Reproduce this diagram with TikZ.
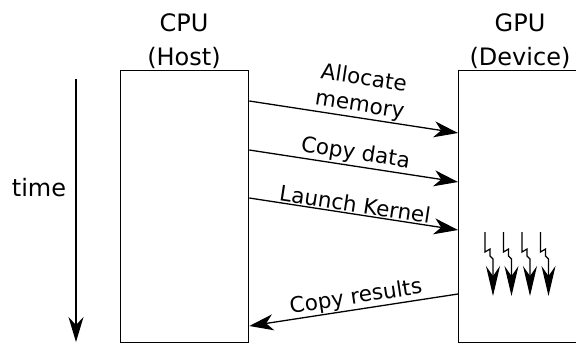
\documentclass[tikz,border=0pt]{standalone}
\usepackage{fontspec}
\setmainfont{DejaVu Sans}
\usetikzlibrary{arrows.meta,calc}
\begin{document}
\begin{tikzpicture}[x=1pt,y=-1pt,line width=1.3pt,
  lane/.style={draw,rectangle,inner sep=0pt,minimum width=#1,minimum height=272,anchor=north west},
  hdr/.style={font=\fontsize{24}{34}\selectfont,align=center},
  msg/.style={-{Stealth[length=24pt,width=16pt,inset=7pt]}},
  lbl/.style={font=\fontsize{21.5}{27}\selectfont,align=center,inner sep=1pt},
  bolt/.style={line width=1.2pt,-{Stealth[length=30pt,width=14pt,inset=10pt]}}]
\useasboundingbox (0,0) rectangle (576,343);

% lifelines of host and device
\node[lane=128] (host) at (120,70) {};
\node[lane=140] (dev) at (458,70) {};
\node[hdr] (hostlbl) at (184,41) {CPU\\(Host)};
\node[hdr] (devlbl) at (520,41) {GPU\\(Device)};

% time axis
\coordinate (t0) at (76,79);
\coordinate (t1) at (76,342);
\draw[-{Stealth[length=25pt,width=15pt,inset=8pt]}] (t0) -- (t1);
\node[font=\fontsize{24}{28}\selectfont] (time) at (39,188) {time};

% messages between host and device
\draw[msg] ($(host.north east)+(0,31)$) -- ($(dev.north west)+(0,63)$)
  node[lbl,pos=0.52,sloped,above] {Allocate\\memory};
\draw[msg] ($(host.north east)+(0,80)$) -- ($(dev.north west)+(0,112)$)
  node[lbl,midway,sloped,above] {Copy data};
\draw[msg] ($(host.north east)+(0,128)$) -- ($(dev.north west)+(0,160)$)
  node[lbl,midway,sloped,above] {Launch Kernel};
\draw[msg] ($(dev.north west)+(0,224)$) -- ($(host.north east)+(0,256)$)
  node[lbl,pos=0.48,sloped,above] {Copy results};

% kernel threads
\foreach \x in {485,503.5,522,540.5}
  \draw[bolt] (\x,232) -- ++(0,20) -- ++(5,-3) -- ++(0,7) -- ++(3,3) -- ++(0,37);
\end{tikzpicture}
\end{document}
